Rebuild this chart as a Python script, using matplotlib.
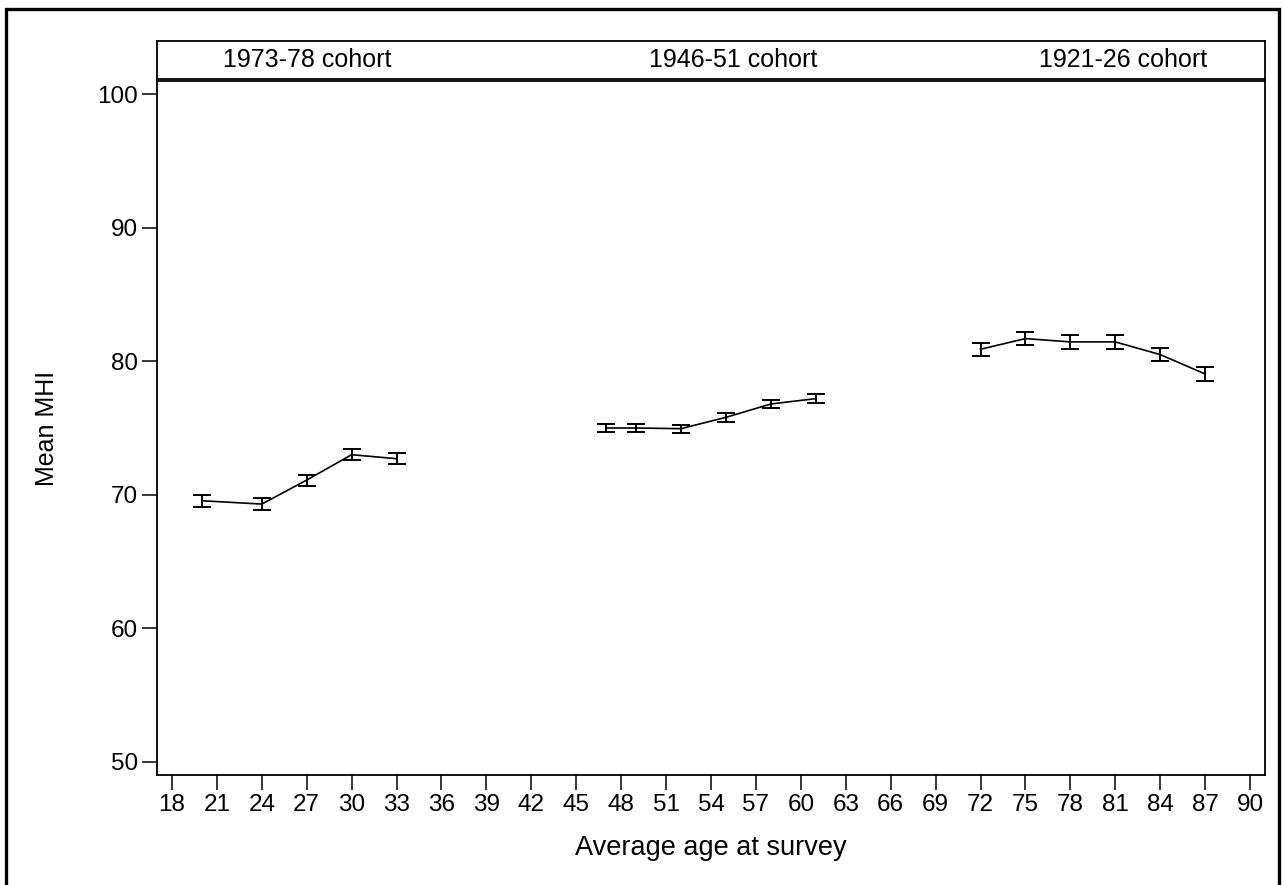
import numpy as np
import matplotlib.pyplot as plt
from matplotlib.patches import Rectangle

plt.rcParams['font.family'] = ['Liberation Sans', 'DejaVu Sans']

# mean MHI with 95% CI half-widths, by cohort
cohort_names = ['1973-78 cohort', '1946-51 cohort', '1921-26 cohort']
cohort_label_x = [27.0, 55.5, 81.5]

age_1973 = [20, 24, 27, 30, 33]
mhi_1973 = [69.55, 69.3, 71.1, 73.0, 72.7]
ci_1973 = [0.44, 0.43, 0.41, 0.40, 0.41]

age_1946 = [47, 49, 52, 55, 58, 61]
mhi_1946 = [75.0, 75.0, 74.95, 75.8, 76.8, 77.2]
ci_1946 = [0.31, 0.31, 0.31, 0.33, 0.33, 0.33]

age_1921 = [72, 75, 78, 81, 84, 87]
mhi_1921 = [80.9, 81.7, 81.45, 81.45, 80.5, 79.05]
ci_1921 = [0.48, 0.47, 0.5, 0.5, 0.5, 0.51]

x_ticks = list(range(18, 91, 3))
y_ticks = [50, 60, 70, 80, 90, 100]

W, H = 1288, 885
fig = plt.figure(figsize = [W / 100, H / 100], dpi = 100)

# outer frame round the whole graph
fig.patches.append(Rectangle((6 / W, -0.05), (1279 - 6) / W, 1.05 - 9 / H,
                             transform = fig.transFigure, fill = False,
                             edgecolor = 'black', linewidth = 2.4))

left, right = 157 / W, 1265 / W
ax = fig.add_axes([left, 1 - 775 / H, right - left, (775 - 81) / H])
hdr = fig.add_axes([left, 1 - 79 / H, right - left, (79 - 41) / H], sharex = ax)

for ages, mhi, ci in [(age_1973, mhi_1973, ci_1973),
                      (age_1946, mhi_1946, ci_1946),
                      (age_1921, mhi_1921, ci_1921)]:
    ax.errorbar(ages, mhi, yerr = ci, color = 'black', linewidth = 1.2,
                elinewidth = 1.4, capsize = 6.5, capthick = 1.4)

ax.set_xlim(17, 91)
ax.set_ylim(49, 101)
ax.set_xticks(x_ticks)
ax.set_yticks(y_ticks)
ax.tick_params(labelsize = 17.5, length = 10.5, width = 1.1, pad = 3, colors = 'black')
for sp in ax.spines.values():
    sp.set_linewidth(1.3)
ax.set_xlabel('Average age at survey', fontsize = 19.5, labelpad = 14)
ax.set_ylabel('Mean MHI', fontsize = 18, labelpad = 28)

# header strip with the cohort names
hdr.set_ylim(0, 1)
hdr.tick_params(left = False, bottom = False, labelleft = False, labelbottom = False)
for sp in hdr.spines.values():
    sp.set_linewidth(1.3)
for name, xc in zip(cohort_names, cohort_label_x):
    hdr.text(xc, 0.5, name, ha = 'center', va = 'center', fontsize = 18)

fig.savefig('out.png', dpi = 100)
